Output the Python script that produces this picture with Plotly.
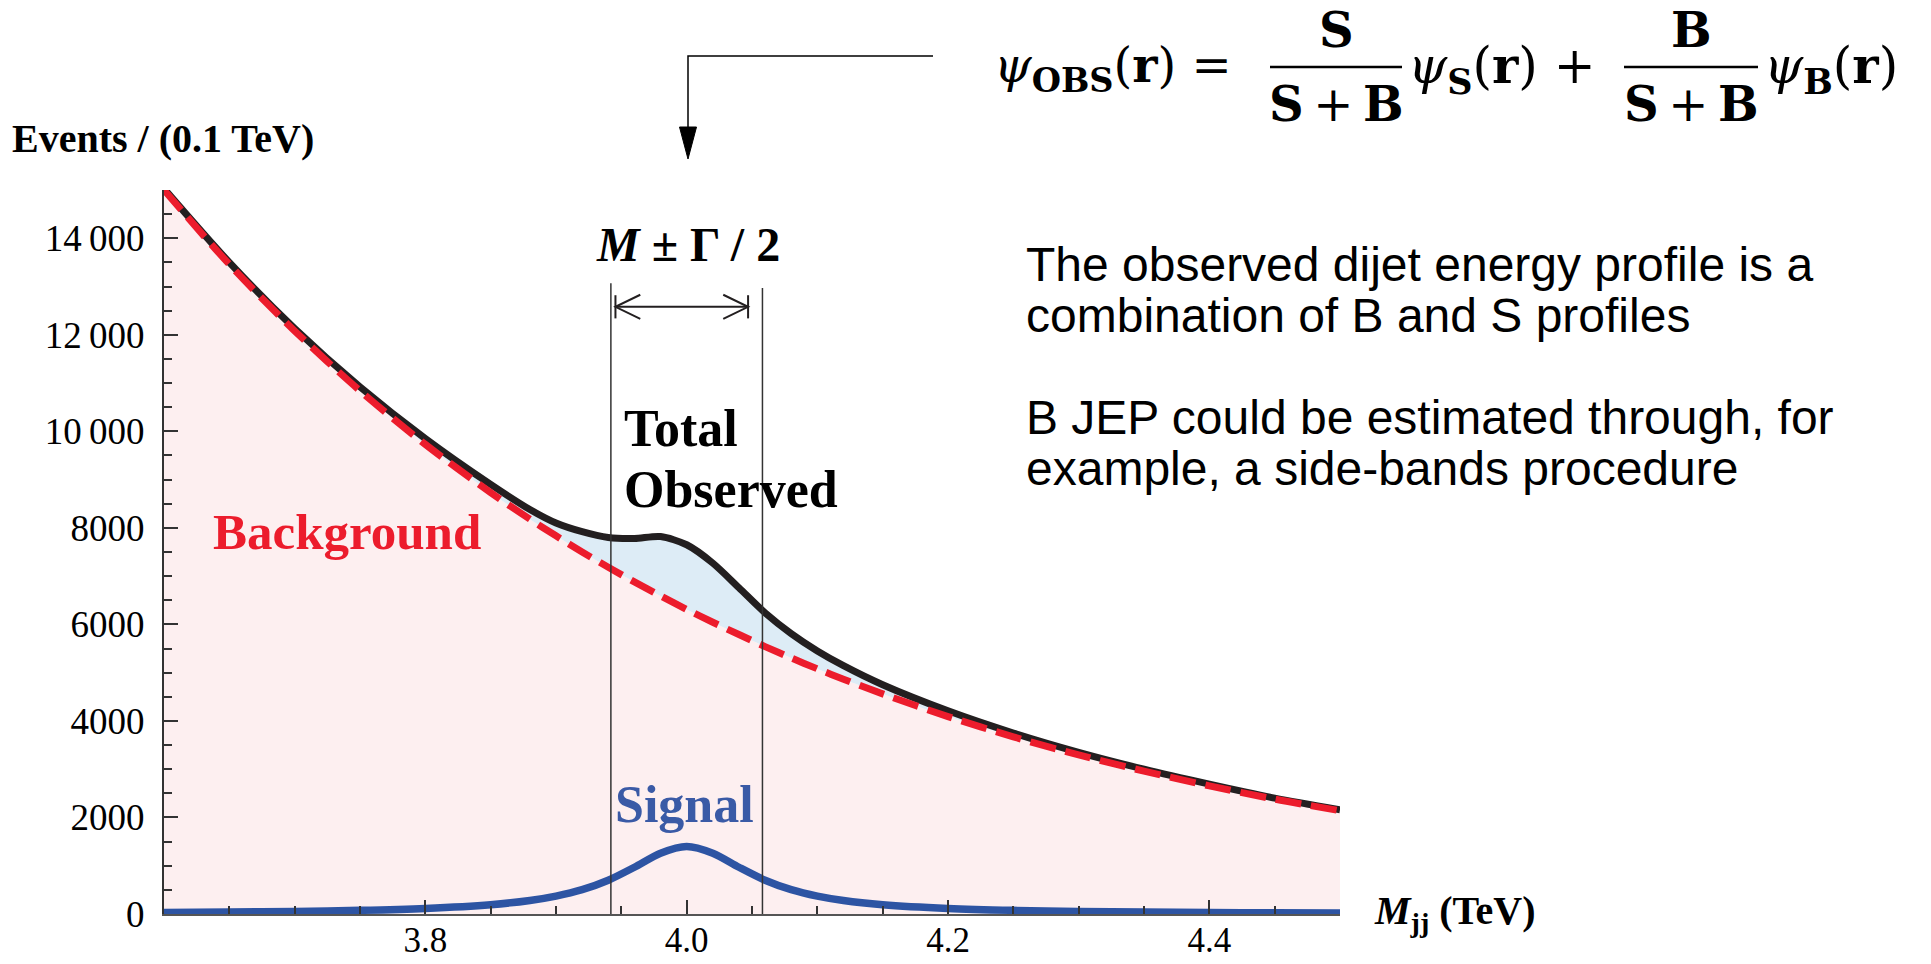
import plotly.graph_objects as go

# ---- data -------------------------------------------------------------
mjj = [3.60, 3.65, 3.70, 3.75, 3.80, 3.85, 3.88, 3.90, 3.92, 3.94, 3.96, 3.98,
       4.00, 4.02, 4.04, 4.06, 4.08, 4.10, 4.12, 4.15, 4.20, 4.25, 4.30, 4.35,
       4.40, 4.45, 4.50]
background = [15000, 13460, 12080, 10840, 9730, 8730, 8180, 7835, 7500, 7185,
              6880, 6590, 6310, 6045, 5790, 5540, 5305, 5080, 4865, 4560, 4090,
              3670, 3295, 2960, 2655, 2380, 2140]
signal = [31, 40, 54, 76, 116, 193, 280, 371, 504, 700, 969, 1260, 1400, 1260,
          969, 700, 504, 371, 280, 193, 116, 76, 54, 40, 31, 24, 20]
total = [15030, 13500, 12130, 10920, 9850, 8900, 8380, 8100, 7920, 7800, 7780,
         7820, 7650, 7270, 6760, 6240, 5810, 5450, 5145, 4750, 4210, 3750, 3350,
         3000, 2690, 2400, 2160]

mass_peak = 4.0
width_gamma = 0.116

y_tick_vals = [0, 2000, 4000, 6000, 8000, 10000, 12000, 14000]
y_tick_text = ["0", "2000", "4000", "6000", "8000",
               "10\u2009000", "12\u2009000", "14\u2009000"]
x_tick_vals = [3.8, 4.0, 4.2, 4.4]
x_tick_text = ["3.8", "4.0", "4.2", "4.4"]

# ---- geometry ---------------------------------------------------------
W, H = 1931, 964
ML, MR, MT, MB = 164, 591, 190, 50
PW, PH = W - ML - MR, H - MT - MB


def px(x):
    return (x - ML) / PW


def py(y):
    return (H - MB - y) / PH


RED = "#ec1c2c"
BLUE = "#2d54a3"
SERIF = "Liberation Serif"
MATH = "DejaVu Serif"
SANS = "Liberation Sans"

fig = go.Figure()

# pink area under the background
fig.add_trace(go.Scatter(x=mjj, y=background, mode="lines",
                         line=dict(width=0, shape="spline", smoothing=0.8),
                         fill="tozeroy", fillcolor="#fdeff0",
                         hoverinfo="skip", showlegend=False))
# total observed, light blue excess above background
fig.add_trace(go.Scatter(x=mjj, y=total, mode="lines",
                         line=dict(color="#231f20", width=7, shape="spline",
                                   smoothing=0.8),
                         fill="tonexty", fillcolor="#ddecf6",
                         showlegend=False))
# background dashed curve
fig.add_trace(go.Scatter(x=mjj, y=background, mode="lines",
                         line=dict(color=RED, width=7, dash="26px,10px",
                                   shape="spline", smoothing=0.8),
                         showlegend=False))
# signal
fig.add_trace(go.Scatter(x=mjj, y=signal, mode="lines",
                         line=dict(color=BLUE, width=7.5, shape="spline",
                                   smoothing=0.8),
                         showlegend=False))

shapes = []
lo, hi = mass_peak - width_gamma / 2, mass_peak + width_gamma / 2
for xv, top in ((lo, 13070), (hi, 12970)):
    shapes.append(dict(type="line", xref="x", yref="y", x0=xv, x1=xv,
                       y0=0, y1=top, line=dict(color="#333", width=1.5),
                       layer="above"))

# double arrow M ± Γ/2
ay = 12580
a0, a1 = lo + 0.0035, hi - 0.011
dx, dy = 0.019, 250
arrow = [
    dict(type="line", x0=a0, x1=a1, y0=ay, y1=ay),
    dict(type="line", x0=a0, x1=a0, y0=ay - 240, y1=ay + 240),
    dict(type="line", x0=a1, x1=a1, y0=ay - 240, y1=ay + 240),
    dict(type="path", path=f"M{a0+dx},{ay+dy} L{a0},{ay} L{a0+dx},{ay-dy}"),
    dict(type="path", path=f"M{a1-dx},{ay+dy} L{a1},{ay} L{a1-dx},{ay-dy}"),
]
for s in arrow:
    s.update(xref="x", yref="y", line=dict(color="#231f20", width=2),
             layer="above")
shapes += arrow

# bent pointer from the formula down to the peak
ax0 = 688
shapes.append(dict(type="path", xref="paper", yref="paper",
                   path=f"M{px(933)},{py(56)} L{px(ax0)},{py(56)} L{px(ax0)},{py(132)}",
                   line=dict(color="black", width=1.5)))
shapes.append(dict(type="path", xref="paper", yref="paper",
                   path=f"M{px(ax0-8.5)},{py(127)} L{px(ax0+8.5)},{py(127)} L{px(ax0)},{py(159)} Z",
                   fillcolor="black", line=dict(color="black", width=1)))

# fraction bars of the formula
BAR_Y = 67
for x0, x1 in ((1270, 1402), (1624, 1758)):
    shapes.append(dict(type="line", xref="paper", yref="paper",
                       x0=px(x0), x1=px(x1), y0=py(BAR_Y), y1=py(BAR_Y),
                       line=dict(color="black", width=2.5)))

annotations = []


def note(text, x, y, size, color="black", family=SERIF, xanchor="left",
         yanchor="middle"):
    annotations.append(dict(text=text, x=px(x), y=py(y), xref="paper",
                            yref="paper", showarrow=False, xanchor=xanchor,
                            yanchor=yanchor, align="left",
                            font=dict(size=size, color=color, family=family)))


note("<b>Events / (0.1 TeV)</b>", 10, 139, 40)
note("<b><i>M</i></b><b><sub>jj</sub> (TeV)</b>", 1372, 913, 40)
note("<b><i>M</i> ± Γ / 2</b>", 594, 244, 48)
note("<b>Total</b>", 622, 428, 52)
note("<b>Observed</b>", 622, 489, 52)
note("<b>Background</b>", 211, 532, 51, color=RED)
note("<b>Signal</b>", 684, 804, 52, color="#3a5aa6", xanchor="center")

# formula
MAIN_Y = BAR_Y + 2
note("<i>ψ</i><sub><b>OBS</b></sub>(<b>r</b>) =", 992, MAIN_Y, 48, family=MATH)
note("<b>S</b>", 1336, 30, 48, family=MATH, xanchor="center")
note("<b>S</b>\u2009+\u2009<b>B</b>", 1336, 104, 48, family=MATH, xanchor="center")
note("<i>ψ</i><sub><b>S</b></sub>(<b>r</b>) +", 1406, MAIN_Y, 50, family=MATH)
note("<b>B</b>", 1691, 30, 48, family=MATH, xanchor="center")
note("<b>S</b>\u2009+\u2009<b>B</b>", 1691, 104, 48, family=MATH, xanchor="center")
note("<i>ψ</i><sub><b>B</b></sub>(<b>r</b>)", 1762, MAIN_Y, 50, family=MATH)

# explanatory text
for line, yc in (("The observed dijet energy profile is a", 264),
                 ("combination of B and S profiles", 315),
                 ("B JEP could be estimated through, for", 417),
                 ("example, a side-bands procedure", 468)):
    note(line, 1024, yc, 48, family=SANS)

axis_font = dict(family=SERIF, size=37, color="black")
fig.update_layout(
    width=W, height=H,
    margin=dict(l=ML, r=MR, t=MT, b=MB, pad=0, autoexpand=False),
    paper_bgcolor="white", plot_bgcolor="white",
    showlegend=False,
    shapes=shapes, annotations=annotations,
    xaxis=dict(range=[3.6, 4.5], showgrid=False, zeroline=False,
               automargin=False,
               showline=True, linecolor="#555", linewidth=2,
               ticks="inside", ticklen=14, tickwidth=1.5, tickcolor="#333",
               tickvals=x_tick_vals, ticktext=x_tick_text,
               tickfont=dict(family=SERIF, size=35, color="black"),
               ticklabelstandoff=-6,
               minor=dict(tick0=3.6, dtick=0.05, ticks="inside", ticklen=8,
                          tickwidth=1.5, tickcolor="#333", showgrid=False)),
    yaxis=dict(range=[0, 15000], showgrid=False, zeroline=False,
               automargin=False,
               showline=True, linecolor="#333", linewidth=2,
               ticks="inside", ticklen=14, tickwidth=1.5, tickcolor="#333",
               tickvals=y_tick_vals, ticktext=y_tick_text,
               tickfont=axis_font, ticklabelstandoff=10,
               minor=dict(tick0=0, dtick=500, ticks="inside", ticklen=8,
                          tickwidth=1.5, tickcolor="#333", showgrid=False)),
)

fig.write_html("out.html")
